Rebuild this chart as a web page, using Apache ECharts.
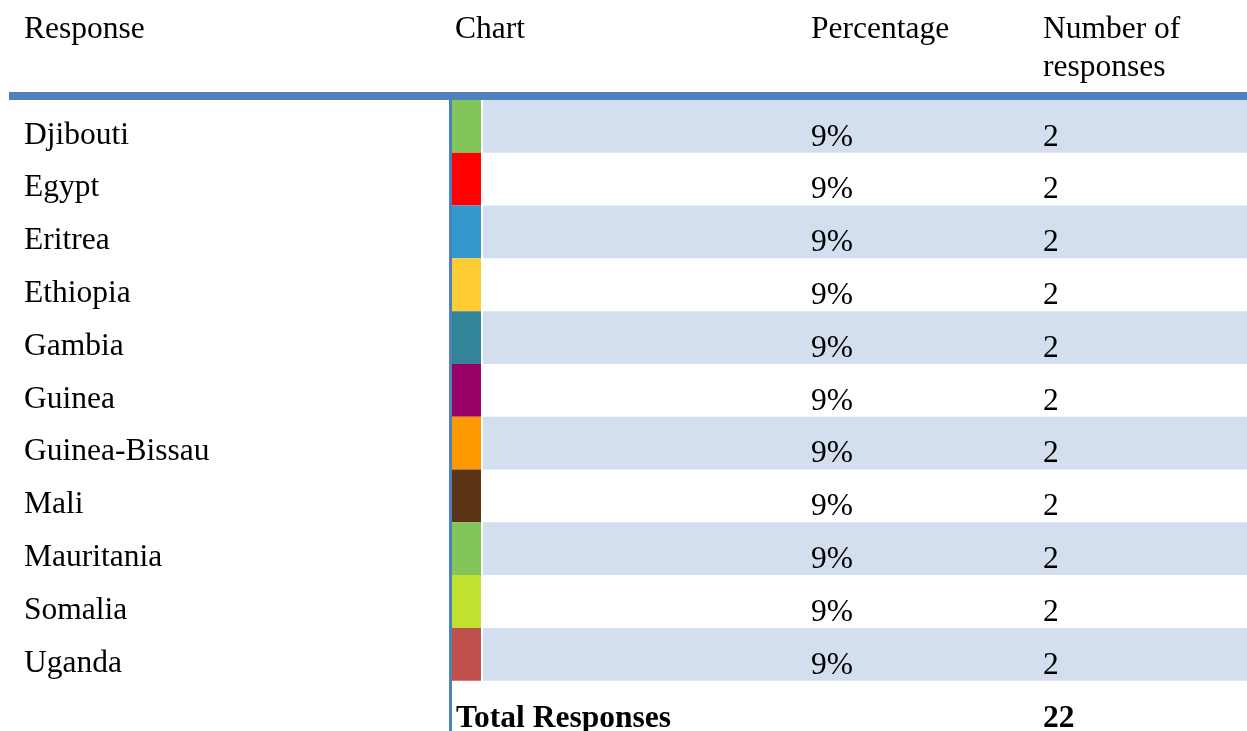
<!DOCTYPE html>
<html>
<head>
<meta charset="utf-8">
<title>Responses by country</title>
<script src="https://cdn.jsdelivr.net/npm/echarts@6/dist/echarts.min.js"></script>
<style>
  html, body { margin: 0; padding: 0; background: #fff; }
  #chart { width: 1247px; height: 731px; }
</style>
</head>
<body>
<div id="chart"></div>
<script>
// countries, in the order of the table
const countries = ["Djibouti", "Egypt", "Eritrea", "Ethiopia", "Gambia", "Guinea",
  "Guinea-Bissau", "Mali", "Mauritania", "Somalia", "Uganda"];
// percentage of responses (as printed)
const percentages = [9, 9, 9, 9, 9, 9, 9, 9, 9, 9, 9];
// number of responses
const counts = [2, 2, 2, 2, 2, 2, 2, 2, 2, 2, 2];
const totalResponses = 22;
// bar colours, one per row
const barColors = ["#82c55a", "#ff0000", "#3399cc", "#ffcc33", "#338499", "#990066",
  "#ff9900", "#5a3214", "#82c55a", "#c0e22e", "#c0504d"];

const FONT = "'Liberation Serif', 'Times New Roman', serif";
const FS = 31.5;
const BLUE = "#4f81bd";

const myChart = echarts.init(document.getElementById("chart"));

const option = {
  animation: false,
  grid: [
    // chart column (bars)
    { left: 452, top: 100, width: 322, height: 580.7 },
    // striped background of the right part
    { left: 483, right: 0, top: 100, height: 580.7 }
  ],
  xAxis: [
    { gridIndex: 0, type: "value", min: 0, max: 100, show: false },
    { gridIndex: 1, type: "value", min: 0, max: 100, show: false }
  ],
  yAxis: [
    {
      gridIndex: 0,
      type: "category",
      inverse: true,
      data: countries,
      axisLine: { show: false },
      axisTick: { show: false },
      splitLine: { show: false },
      axisLabel: {
        align: "left",
        margin: 428,
        formatter: (v) => "{a|" + v + "}",
        rich: {
          a: { color: "#000", fontFamily: FONT, fontSize: FS, padding: [18, 0, 0, 0] }
        }
      }
    },
    {
      gridIndex: 1,
      type: "category",
      inverse: true,
      data: countries,
      axisLine: { show: false },
      axisTick: { show: false },
      axisLabel: { show: false },
      splitLine: { show: false },
      splitArea: {
        show: true,
        areaStyle: { color: ["#d3dfee", "rgba(255,255,255,0)"] }
      }
    }
  ],
  series: [
    {
      type: "bar",
      xAxisIndex: 0,
      yAxisIndex: 0,
      barWidth: "100%",
      barCategoryGap: 0,
      z: 5,
      data: percentages.map((v, i) => ({ value: v, itemStyle: { color: barColors[i] } })),
      label: {
        show: true,
        position: "insideLeft",
        distance: 0,
        offset: [359, 11],
        formatter: (p) => "{p|" + percentages[p.dataIndex] + "%}{n|" + counts[p.dataIndex] + "}",
        rich: {
          p: { width: 232, color: "#000", fontFamily: FONT, fontSize: FS },
          n: { color: "#000", fontFamily: FONT, fontSize: FS }
        }
      }
    }
  ],
  graphic: [
    // header rule
    { type: "rect", left: 9, top: 92, shape: { width: 1238, height: 8 }, style: { fill: BLUE }, z: 10 },
    // vertical rule left of chart column
    { type: "rect", left: 449, top: 100, shape: { width: 3, height: 631 }, style: { fill: BLUE }, z: 10 },
    // header texts
    { type: "text", x: 24, y: 30, style: { text: "Response", font: FS + "px " + FONT, fill: "#000", verticalAlign: "middle" } },
    { type: "text", x: 455, y: 30, style: { text: "Chart", font: FS + "px " + FONT, fill: "#000", verticalAlign: "middle" } },
    { type: "text", x: 811, y: 30, style: { text: "Percentage", font: FS + "px " + FONT, fill: "#000", verticalAlign: "middle" } },
    { type: "text", x: 1043, y: 11, style: { text: "Number of\nresponses", font: FS + "px " + FONT, fill: "#000", lineHeight: 38, verticalAlign: "top" } },
    // total row
    { type: "text", x: 456, y: 718.5, style: { text: "Total Responses", font: "bold " + FS + "px " + FONT, fill: "#000", verticalAlign: "middle" } },
    { type: "text", x: 1043, y: 718.5, style: { text: String(totalResponses), font: "bold " + FS + "px " + FONT, fill: "#000", verticalAlign: "middle" } }
  ]
};

myChart.setOption(option);
</script>
</body>
</html>
